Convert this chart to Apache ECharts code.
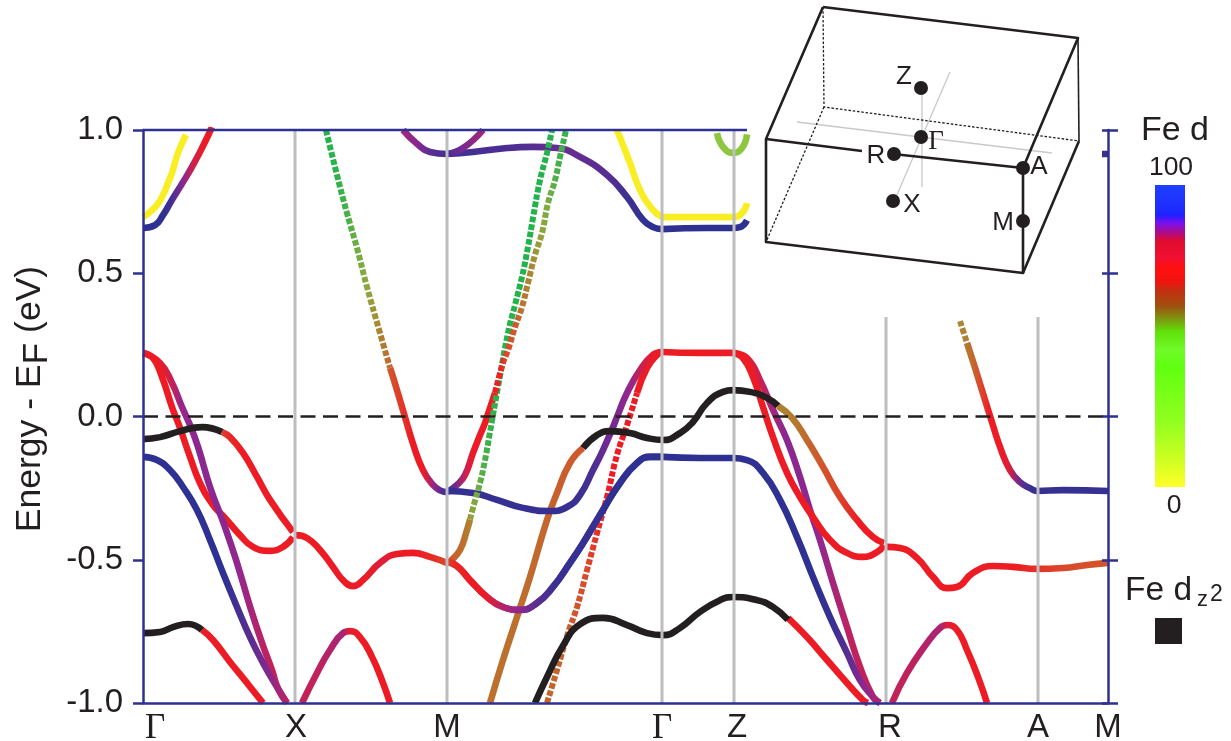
<!DOCTYPE html>
<html><head><meta charset="utf-8">
<style>html,body{margin:0;padding:0;background:#fff}#c{width:1231px;height:741px}</style>
<script src="https://cdn.jsdelivr.net/npm/echarts@6/dist/echarts.min.js"></script>
</head><body><div id="c"></div>
<script>
// k-path labels and high-symmetry positions
const kLabels = ['Γ','X','M','Γ','Z','R','A','M'];
const kLabelPos = [155,296,447,662,737,890,1038,1108];
const kLines = [295,447,662,734,886,1038];
const kLineTop = [1,1,1,1,0.347,0.347];

// Bands: [k, energy (eV), Fe d weight %]
const yellowGX = [[143,.696,0],[150,.714,0],[157,.738,0],[163,.773,0],[168,.815,0],[172,.850,0],[178,.920,0],[186,.983,0]];
const upperGX = [[143,.658,100],[155,.668,100],[163,.703,100],[172,.756,97],[183,.818,88],[192,.871,78],[202,.937,70],[212,1.01,70]];
const redA_GX = [[143,.222,70],[153,.204,70],[162,.138,70],[172,.033,70],[180,-.040,70],[190,-.141,70],[200,-.232,70],[213,-.309,70],[225,-.354,70],[240,-.414,70],[253,-.455,70],[270,-.469,70],[283,-.455,70],[293,-.421,70]];
const purpleGX = [[143,.222,70],[160,.187,70],[172,.117,78],[182,.033,86],[190,-.030,87],[198,-.106,88],[210,-.246,88],[225,-.386,88],[237,-.511,87],[250,-.663,84],[262,-.790,81],[272,-.885,80],[278,-.950,80],[287,-1.0,80]];
const navyGX = [[143,-.141,100],[157,-.152,100],[170,-.187,100],[183,-.246,100],[197,-.326,100],[210,-.431,100],[223,-.546,100],[237,-.665,97],[250,-.770,94],[263,-.860,90],[277,-.944,84],[287,-1.0,80]];
const blackA_GX = [[143,-.079],[160,-.072],[180,-.051],[202,-.037],[222,-.054]];
const redB_GX = [[222,-.054,62],[230,-.072,66],[243,-.127,70],[257,-.211,70],[270,-.291,70],[293,-.403,70]];
const blackB_GX = [[143,-.756],[160,-.752],[173,-.735],[188,-.724],[202,-.745]];
const redC_GX = [[202,-.745,70],[213,-.780,70],[230,-.857,70],[247,-.930,70],[263,-1.0,70]];

const redXM = [[296,-.414,70],[307,-.424,70],[320,-.466,70],[333,-.525,70],[343,-.571,72],[353,-.592,72],[363,-.571,74],[380,-.511,76],[397,-.480,72],[413,-.476,70],[430,-.490,66],[447,-.511,60]];
const humpXM = [[302,-1.0,80],[317,-.895,80],[330,-.815,82],[343,-.756,84],[350,-.749,75],[360,-.770,70],[372,-.839,70],[383,-.930,70],[390,-1.0,70]];
const greenXM = [[326,1.0,30],[337,.843,31],[347,.710,34],[357,.588,40],[367,.452,46],[380,.291,53],[390,.170,58]];
const greenXMlow = [[390,.170,58],[393,.138,60],[405,-.002,65],[413,-.095,70],[423,-.187,72],[433,-.239,88],[440,-.258,96],[447,-.264,100]];
const topXM = [[403,1.0,84],[417,.952,88],[430,.923,94],[447,.916,98]];

const risingTopM = [[447,.916,98],[463,.937,90],[483,1.0,84]];
const flatTopMG = [[447,.916,98],[473,.923,97],[507,.937,96],[533,.941,95],[557,.937,92],[580,.906,93],[607,.843,95],[627,.766,98],[643,.686,100],[653,.661,100],[662,.654,100]];
const yellowMG = [[617,1.0,0],[630,.885,0],[640,.791,0],[653,.721,0],[662,.696,0]];
const yellowGZ = [[662,.696,0],[700,.696,0],[733,.696,0],[742,.710,0],[747,.745,0]];
const navyTopGZ = [[662,.654,100],[707,.658,100],[733,.658,100],[740,.661,100],[747,.685,100]];
const limeZ = [[717,.989,15],[723,.941,15],[733,.920,15],[742,.937,15],[747,.985,15]];

const greenMGlow = [[447,-.511,60],[450,-.506,60],[460,-.466,56],[467,-.396,52],[470,-.360,50]];
const greenMG = [[470,-.360,50],[473,-.319,47],[480,-.232,40],[485,-.152,36],[490,-.054,33],[498,.103,31],[508,.291,30],[515,.389,30],[522,.487,30],[528,.592,30],[533,.693,30],[540,.825,30],[547,.920,30],[552,1.0,30]];
const redMGup = [[447,-.264,100],[457,-.239,92],[465,-.204,80],[473,-.127,70],[478,-.082,70],[485,-.023,70],[487,-.002,70],[495,.082,70]];
const redMGdot = [[495,.082,70],[503,.187,67],[508,.232,62],[515,.312,60],[522,.382,55],[528,.466,52],[535,.564,49],[542,.640,46],[548,.745,40],[555,.825,35],[560,.906,33],[566,1.0,32]];
const navyMG = [[447,-.260,100],[473,-.267,99],[497,-.291,99],[523,-.319,99],[550,-.330,99],[567,-.316,99],[580,-.274,98],[593,-.187,96],[603,-.117,92],[613,-.037,90],[617,-.002,89],[627,.082,87],[640,.162,78],[653,.215,70],[662,.225,70]];
const redDownMG = [[447,-.508,60],[457,-.522,66],[470,-.571,70],[487,-.630,72],[503,-.665,82],[520,-.675,87],[537,-.651,94],[553,-.595,98],[570,-.511,99],[583,-.442,99],[597,-.361,99],[603,-.326,100],[620,-.232,100],[637,-.162,100],[650,-.141,100],[662,-.141,100]];
const orangeMG = [[490,-1.0,55],[503,-.850,55],[517,-.700,55],[530,-.560,56],[547,-.361,57],[557,-.267,58],[570,-.162,59],[583,-.110,60]];
const blackUpper = [[583,-.110],[597,-.065],[610,-.051],[630,-.058],[647,-.075],[663,-.082],[680,-.058],[693,-.019],[707,.047],[723,.086],[733,.092],[750,.086],[767,.065],[778,.037]];
const redDotMG = [[547,-1.0,57],[557,-.885,57],[568,-.756,58],[577,-.665,60],[587,-.536,62],[597,-.407,65],[607,-.281,68],[617,-.134,70],[627,-.030,70],[637,.082,70]];
const redTopMG = [[637,.082,70],[647,.169,70],[657,.215,70],[662,.225,70]];
const blackLower = [[535,-1.0],[547,-.909],[563,-.800],[580,-.725],[603,-.703],[627,-.728],[647,-.756],[663,-.763],[680,-.738],[700,-.682],[720,-.641],[733,-.630],[757,-.641],[773,-.665],[788,-.710]];

const redGZ = [[662,.225,70],[700,.222,70],[733,.222,70]];
const navyGZ = [[662,-.141,100],[700,-.145,100],[733,-.145,100],[747,-.152,100],[763,-.197,100],[780,-.291,100],[797,-.421,100],[813,-.560,100],[830,-.700,99],[847,-.825,94],[860,-.920,88],[873,-.979,84],[880,-1.0,82]];
const redInnerZR = [[733,.222,70],[743,.204,70],[753,.138,70],[763,.033,70],[773,-.072,70],[787,-.197,70],[800,-.281,70],[813,-.351,70],[830,-.431,70],[847,-.476,70],[863,-.490,70],[877,-.473,70],[884,-.449,70]];
const purpleZR = [[733,.222,70],[747,.204,72],[760,.127,78],[773,.023,84],[787,-.082,88],[800,-.211,88],[810,-.326,88],[820,-.431,87],[833,-.581,84],[847,-.735,81],[860,-.874,80],[873,-.979,80],[880,-1.0,80]];
const orangeZR = [[778,.037,52],[792,-.005,52],[807,-.082,56],[823,-.176,60],[840,-.281,63],[857,-.361,68],[873,-.421,70],[884,-.442,70]];
const redLowZR = [[788,-.703,70],[807,-.770,70],[827,-.850,70],[847,-.930,70],[863,-.990,70],[868,-1.0,70]];

const redRM = [[887,-.455,70],[900,-.459,70],[917,-.494,70],[933,-.560,70],[947,-.599,70],[957,-.595,70],[973,-.546,70],[993,-.522,70],[1013,-.525,68],[1037,-.532,65],[1063,-.529,62],[1087,-.518,61],[1108,-.511,60]];
const humpRA = [[892,-1.0,80],[907,-.895,80],[927,-.791,82],[940,-.738,84],[947,-.728,76],[957,-.745,70],[967,-.815,70],[978,-.909,70],[987,-1.0,70]];
const brownRAdot = [[960,.333,50],[967,.257,53]];
const brownRA = [[967,.257,53],[975,.170,56],[983,.080,62],[992,-.020,68],[1000,-.106,70],[1010,-.187,76],[1020,-.229,92],[1030,-.250,98],[1037,-.260,99],[1063,-.257,99],[1108,-.260,99]];
const stubM = [[1102,.916,99],[1109,.916,99]];

// Band colour ramp and the printed colour bar
const bandRamp = [[0,'#f9ed24'],[15,'#8dc63f'],[30,'#22b34c'],[40,'#71ad43'],[46,'#8fa63c'],[52,'#b08030'],[58,'#c8602c'],[62,'#d94a2b'],[68,'#ed1c24'],[74,'#ed1c24'],[80,'#c2225a'],[87,'#92278f'],[94,'#5b2d93'],[100,'#2e3192']];
const barStops = [[0,'#2040ff'],[.09,'#1c28ff'],[.1,'#2020ff'],[.125,'#7810f0'],[.155,'#a80c90'],[.185,'#e00c30'],[.24,'#f01030'],[.275,'#ff1010'],[.32,'#f01410'],[.345,'#c82c10'],[.4,'#a05010'],[.44,'#809010'],[.485,'#60e008'],[.545,'#70fa28'],[.6,'#60ff10'],[.78,'#90ff20'],[.9,'#c8ff20'],[1,'#ffff28']];

// Brillouin-zone inset geometry (schematic)
const bzSolid = [[[823,7],[1078,38],[1023,168],[1023,273],[766,242],[766,139],[823,7]],[[766,139],[862,151]],[[893,154],[1023,168]],[[1023,273],[1079,141]]];
const bzThin = [[[1078,38],[1079,141]]];
const bzDash = [[[823,7],[824,107],[1079,141]],[[824,107],[766,242]]];
const bzGrey = [[[797,122],[1052,153]],[[950,72],[896,197]],[[922,90],[922,187]]];
const bzPoints = [[921,88],[921,137],[894,154],[1023,168],[1023,221],[893,201]];
const bzText = [['Z',904,77],['R',876,156],['A',1039,167],['M',1003,223],['X',912,205]];

const BLUE = '#2e3192', BLACK = '#231f20', GREY = '#bcbec0';
const SANS = '"Liberation Sans", Arial, sans-serif', SERIF = '"Liberation Serif", serif';

function hex(c){return [1,3,5].map(i=>parseInt(c.substr(i,2),16));}
function weightColor(w){
  for(let i=1;i<bandRamp.length;i++){
    if(w<=bandRamp[i][0]){
      const a=bandRamp[i-1],b=bandRamp[i],t=(w-a[0])/(b[0]-a[0]||1);
      const ca=hex(a[1]),cb=hex(b[1]);
      return 'rgb('+ca.map((v,j)=>Math.round(v+(cb[j]-v)*t)).join(',')+')';
    }
  }
  return bandRamp[bandRamp.length-1][1];
}
function bandSeries(d,dashed){
  const x0=d[0][0],x1=d[d.length-1][0];
  const stops=d.map(p=>({offset:Math.min(1,Math.max(0,(p[0]-x0)/(x1-x0))),color:weightColor(p[2])}));
  return {type:'line',data:d.map(p=>[p[0],p[1]]),showSymbol:false,smooth:0.5,silent:true,z:3,
    lineStyle:{width:dashed?6:6.6,color:new echarts.graphic.LinearGradient(0,0,1,0,stops),type:dashed?[5.6,2]:'solid',cap:'butt'}};
}
function blackSeries(d){
  return {type:'line',data:d,showSymbol:false,smooth:0.5,silent:true,z:4,lineStyle:{width:6.6,color:BLACK}};
}
const series=[
  ...[yellowGX,yellowMG,yellowGZ,limeZ,upperGX,flatTopMG,navyTopGZ,topXM,risingTopM,redC_GX,humpXM,humpRA,redLowZR,
      redA_GX,purpleGX,redB_GX,navyGX,redXM,greenXMlow,redMGup,orangeMG,redTopMG,greenMGlow,redDownMG,navyMG,
      redGZ,purpleZR,redInnerZR,orangeZR,navyGZ,redRM,brownRA,stubM].map(d=>bandSeries(d,false)),
  ...[greenXM,greenMG,redMGdot,redDotMG,brownRAdot].map(d=>bandSeries(d,true)),
  ...[blackA_GX,blackB_GX,blackUpper,blackLower].map(blackSeries)
];
// redraw the blue branch above the dotted red band where they cross
series.push(Object.assign(bandSeries(redDownMG,false),{z:4}));
kLines.forEach((k,i)=>series.push({type:'line',data:[[k,-1],[k,kLineTop[i]]],showSymbol:false,silent:true,z:5,lineStyle:{width:3,color:GREY}}));
series.push({type:'line',data:[[143,0],[1108,0]],showSymbol:false,silent:true,z:6,lineStyle:{width:2.6,color:BLACK,type:[15,7.5]}});
series.push({type:'line',data:[[143,1],[747,1]],showSymbol:false,silent:true,z:7,clip:false,lineStyle:{width:2.5,color:BLUE}});

const labelRows={};
kLabelPos.forEach((p,i)=>labelRows[p]=kLabels[i]);

const axisBase={type:'value',min:-1,max:1,interval:0.5,splitLine:{show:false},z:10};
const graphic=[];
function line(pts,lw,color,dash){graphic.push({type:'polyline',silent:true,z:20,shape:{points:pts},style:{stroke:color,lineWidth:lw,fill:null,lineDash:dash||null,lineJoin:'round'}});}
function text(t,x,y,size,fam,align){graphic.push({type:'text',silent:true,z:21,x,y,style:{text:t,font:size+'px '+(fam||SANS),fill:BLACK,align:align||'center',verticalAlign:'middle'}});}
bzGrey.forEach(p=>line(p,1.3,'#c8c9cb'));
bzDash.forEach(p=>line(p,1.3,BLACK,[2.5,1.8]));
bzThin.forEach(p=>line(p,1.6,BLACK));
bzSolid.forEach(p=>line(p,2.6,BLACK));
bzPoints.forEach(p=>graphic.push({type:'circle',silent:true,z:22,shape:{cx:p[0],cy:p[1],r:7},style:{fill:BLACK}}));
bzText.forEach(t=>text(t[0],t[1],t[2],26));
text('Γ',936,142,27,SERIF);
text('Fe d',1175,131,34);
text('100',1171,168,26.5);
text('0',1174,506,26.5);
graphic.push({type:'rect',silent:true,z:20,shape:{x:1155,y:185,width:30,height:302},
  style:{fill:new echarts.graphic.LinearGradient(0,0,0,1,barStops.map(s=>({offset:s[0],color:s[1]})))}});
text('Fe d',1125,591,33.5,SANS,'left');
text('z',1197,600,22,SANS,'left');
text('2',1210,595,23,SANS,'left');
graphic.push({type:'rect',silent:true,z:20,shape:{x:1155,y:618,width:27,height:26},style:{fill:BLACK}});

const chart=echarts.init(document.getElementById('c'),null,{renderer:'canvas'});
chart.setOption({
  animation:false,backgroundColor:'#fff',
  grid:{left:143,right:123,top:130,bottom:38,containLabel:false,outerBoundsMode:'none'},
  xAxis:{type:'value',min:143,max:1108,splitLine:{show:false},z:10,
    axisLine:{onZero:false,lineStyle:{color:BLUE,width:2.5}},axisTick:{show:false},
    axisLabel:{customValues:kLabelPos,margin:8,color:BLACK,fontSize:33,fontFamily:SANS,hideOverlap:false,showMinLabel:true,showMaxLabel:true,
      formatter:v=>labelRows[v]==='Γ'?'{g|Γ}':labelRows[v],rich:{g:{fontFamily:SERIF,fontSize:35,color:BLACK}}}},
  yAxis:[
    Object.assign({},axisBase,{position:'left',
      axisLine:{show:true,onZero:false,lineStyle:{color:BLUE,width:2.5}},axisTick:{show:true,length:10,lineStyle:{color:BLUE,width:2.5}},
      axisLabel:{margin:20,color:BLACK,fontSize:33,fontFamily:SANS,padding:[0,0,8,0],formatter:v=>v.toFixed(1)},
      name:'Energy - E{s|F} (eV)',nameLocation:'middle',nameRotate:90,nameGap:88,
      nameTextStyle:{color:BLACK,fontSize:35.5,fontFamily:SANS,padding:[0,0,0,35],rich:{s:{fontSize:35.5,fontFamily:SANS,color:BLACK,verticalAlign:'bottom',padding:[14,0,0,0]}}}}),
    Object.assign({},axisBase,{position:'right',
      axisLine:{show:true,onZero:false,lineStyle:{color:BLUE,width:2.5}},axisTick:{show:true,length:10,lineStyle:{color:BLUE,width:2.5}},axisLabel:{show:false}}),
    Object.assign({},axisBase,{position:'right',
      axisLine:{show:false},axisTick:{show:true,inside:true,length:6,lineStyle:{color:BLUE,width:2.5}},axisLabel:{show:false}})
  ],
  series,graphic
});
</script></body></html>
